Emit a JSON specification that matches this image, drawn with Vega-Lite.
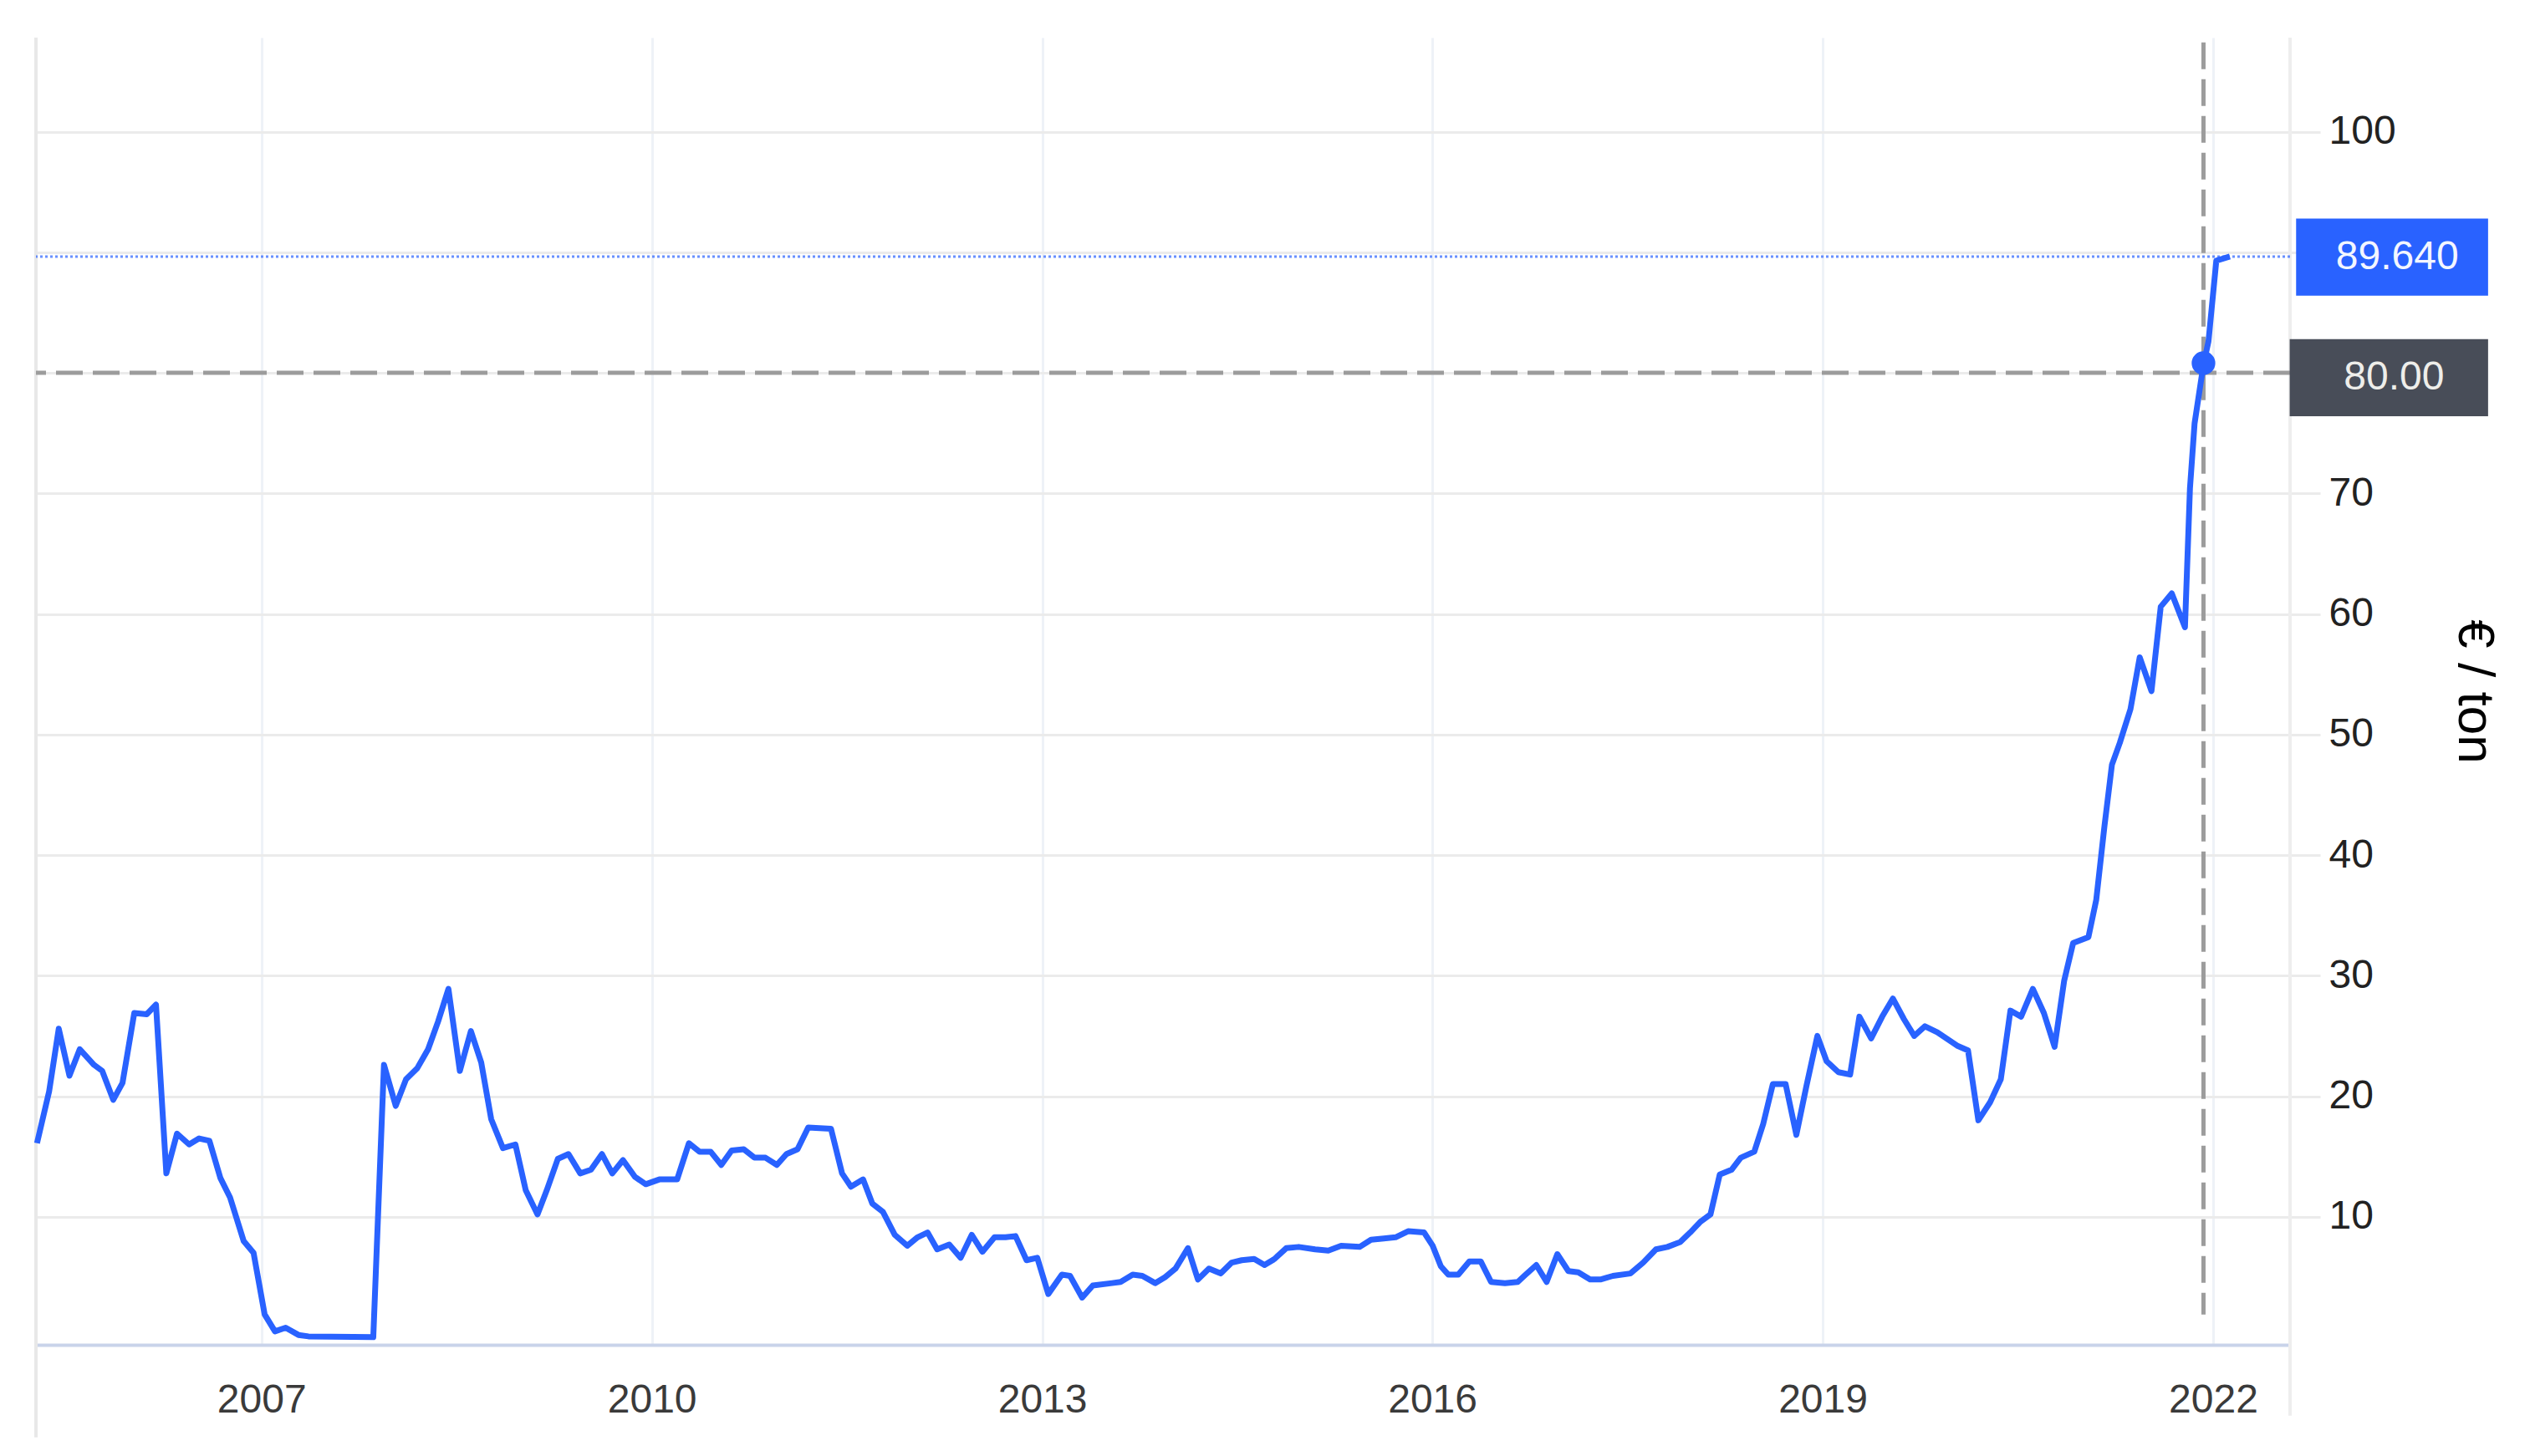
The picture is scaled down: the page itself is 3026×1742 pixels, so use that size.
{
  "$schema": "https://vega.github.io/schema/vega-lite/v6.json",
  "width": 2696,
  "height": 1564,
  "autosize": {"type": "none"},
  "padding": {"left": 43, "top": 45, "right": 287, "bottom": 133},
  "background": "#ffffff",
  "config": {"view": {"stroke": null}, "font": "Liberation Sans"},
  "datasets": {
    "prices": [
      {"date": "2005-04-11", "price": 16.1},
      {"date": "2005-05-15", "price": 20.4},
      {"date": "2005-06-11", "price": 25.6},
      {"date": "2005-07-11", "price": 21.7},
      {"date": "2005-08-09", "price": 23.9},
      {"date": "2005-09-18", "price": 22.6},
      {"date": "2005-10-11", "price": 22.1},
      {"date": "2005-11-11", "price": 19.7},
      {"date": "2005-12-07", "price": 21.1},
      {"date": "2006-01-09", "price": 26.9},
      {"date": "2006-02-13", "price": 26.8},
      {"date": "2006-03-11", "price": 27.6},
      {"date": "2006-04-09", "price": 13.6},
      {"date": "2006-05-09", "price": 16.9},
      {"date": "2006-06-12", "price": 16.0},
      {"date": "2006-07-10", "price": 16.5},
      {"date": "2006-08-08", "price": 16.3},
      {"date": "2006-09-08", "price": 13.2},
      {"date": "2006-10-05", "price": 11.6},
      {"date": "2006-11-12", "price": 8.0},
      {"date": "2006-12-10", "price": 7.0},
      {"date": "2007-01-10", "price": 1.9},
      {"date": "2007-02-08", "price": 0.5},
      {"date": "2007-03-10", "price": 0.8},
      {"date": "2007-04-15", "price": 0.2},
      {"date": "2007-05-13", "price": 0.08},
      {"date": "2007-07-15", "price": 0.05},
      {"date": "2007-09-15", "price": 0.03},
      {"date": "2007-11-11", "price": 0.02},
      {"date": "2007-12-11", "price": 22.6},
      {"date": "2008-01-13", "price": 19.2},
      {"date": "2008-02-11", "price": 21.4},
      {"date": "2008-03-13", "price": 22.3},
      {"date": "2008-04-13", "price": 23.9},
      {"date": "2008-05-11", "price": 26.2},
      {"date": "2008-06-09", "price": 28.9},
      {"date": "2008-07-11", "price": 22.1},
      {"date": "2008-08-11", "price": 25.4},
      {"date": "2008-09-09", "price": 22.8},
      {"date": "2008-10-07", "price": 18.1},
      {"date": "2008-11-09", "price": 15.7},
      {"date": "2008-12-14", "price": 16.0},
      {"date": "2009-01-12", "price": 12.2},
      {"date": "2009-02-14", "price": 10.2},
      {"date": "2009-03-12", "price": 12.2},
      {"date": "2009-04-12", "price": 14.8},
      {"date": "2009-05-12", "price": 15.2},
      {"date": "2009-06-14", "price": 13.6},
      {"date": "2009-07-14", "price": 13.9},
      {"date": "2009-08-14", "price": 15.2},
      {"date": "2009-09-12", "price": 13.6},
      {"date": "2009-10-12", "price": 14.7},
      {"date": "2009-11-15", "price": 13.3},
      {"date": "2009-12-15", "price": 12.7},
      {"date": "2010-01-22", "price": 13.1},
      {"date": "2010-03-13", "price": 13.1},
      {"date": "2010-04-15", "price": 16.1},
      {"date": "2010-05-15", "price": 15.4},
      {"date": "2010-06-15", "price": 15.4},
      {"date": "2010-07-15", "price": 14.3},
      {"date": "2010-08-13", "price": 15.5},
      {"date": "2010-09-16", "price": 15.6},
      {"date": "2010-10-16", "price": 14.9},
      {"date": "2010-11-16", "price": 14.9},
      {"date": "2010-12-18", "price": 14.3},
      {"date": "2011-01-14", "price": 15.2},
      {"date": "2011-02-14", "price": 15.6},
      {"date": "2011-03-16", "price": 17.4},
      {"date": "2011-05-19", "price": 17.3},
      {"date": "2011-06-19", "price": 13.6},
      {"date": "2011-07-14", "price": 12.5},
      {"date": "2011-08-17", "price": 13.1},
      {"date": "2011-09-12", "price": 11.1},
      {"date": "2011-10-12", "price": 10.4},
      {"date": "2011-11-14", "price": 8.5},
      {"date": "2011-12-19", "price": 7.6},
      {"date": "2012-01-17", "price": 8.3},
      {"date": "2012-02-14", "price": 8.7},
      {"date": "2012-03-12", "price": 7.3},
      {"date": "2012-04-15", "price": 7.7},
      {"date": "2012-05-17", "price": 6.6},
      {"date": "2012-06-17", "price": 8.5},
      {"date": "2012-07-17", "price": 7.1},
      {"date": "2012-08-20", "price": 8.3},
      {"date": "2012-09-20", "price": 8.3},
      {"date": "2012-10-18", "price": 8.4},
      {"date": "2012-11-18", "price": 6.4},
      {"date": "2012-12-18", "price": 6.6},
      {"date": "2013-01-18", "price": 3.6},
      {"date": "2013-02-25", "price": 5.2},
      {"date": "2013-03-20", "price": 5.1},
      {"date": "2013-04-23", "price": 3.3},
      {"date": "2013-05-23", "price": 4.3},
      {"date": "2013-07-16", "price": 4.5},
      {"date": "2013-08-09", "price": 4.6},
      {"date": "2013-09-12", "price": 5.2},
      {"date": "2013-10-09", "price": 5.1},
      {"date": "2013-11-14", "price": 4.5},
      {"date": "2013-12-12", "price": 5.0},
      {"date": "2014-01-10", "price": 5.7},
      {"date": "2014-02-14", "price": 7.4},
      {"date": "2014-03-14", "price": 4.8},
      {"date": "2014-04-14", "price": 5.7},
      {"date": "2014-05-17", "price": 5.3},
      {"date": "2014-06-17", "price": 6.2},
      {"date": "2014-07-15", "price": 6.4},
      {"date": "2014-08-19", "price": 6.5},
      {"date": "2014-09-17", "price": 6.0},
      {"date": "2014-10-15", "price": 6.5},
      {"date": "2014-11-17", "price": 7.4},
      {"date": "2014-12-22", "price": 7.5},
      {"date": "2015-02-06", "price": 7.3},
      {"date": "2015-03-15", "price": 7.2},
      {"date": "2015-04-20", "price": 7.6},
      {"date": "2015-06-11", "price": 7.5},
      {"date": "2015-07-13", "price": 8.1},
      {"date": "2015-08-18", "price": 8.2},
      {"date": "2015-09-20", "price": 8.3},
      {"date": "2015-10-25", "price": 8.8},
      {"date": "2015-12-09", "price": 8.7},
      {"date": "2016-01-02", "price": 7.6},
      {"date": "2016-01-25", "price": 5.9},
      {"date": "2016-02-15", "price": 5.2},
      {"date": "2016-03-14", "price": 5.2},
      {"date": "2016-04-14", "price": 6.3},
      {"date": "2016-05-16", "price": 6.3},
      {"date": "2016-06-14", "price": 4.6},
      {"date": "2016-07-23", "price": 4.5},
      {"date": "2016-08-28", "price": 4.6},
      {"date": "2016-09-19", "price": 5.2},
      {"date": "2016-10-19", "price": 6.0},
      {"date": "2016-11-17", "price": 4.6},
      {"date": "2016-12-17", "price": 6.9},
      {"date": "2017-01-17", "price": 5.5},
      {"date": "2017-02-14", "price": 5.4},
      {"date": "2017-03-19", "price": 4.8},
      {"date": "2017-04-17", "price": 4.8},
      {"date": "2017-05-22", "price": 5.1},
      {"date": "2017-07-10", "price": 5.3},
      {"date": "2017-08-15", "price": 6.2},
      {"date": "2017-09-20", "price": 7.3},
      {"date": "2017-10-22", "price": 7.5},
      {"date": "2017-11-27", "price": 7.9},
      {"date": "2017-12-25", "price": 8.7},
      {"date": "2018-01-23", "price": 9.6},
      {"date": "2018-02-20", "price": 10.2},
      {"date": "2018-03-18", "price": 13.5},
      {"date": "2018-04-20", "price": 13.9},
      {"date": "2018-05-16", "price": 14.9},
      {"date": "2018-06-23", "price": 15.4},
      {"date": "2018-07-18", "price": 17.7},
      {"date": "2018-08-14", "price": 21.0},
      {"date": "2018-09-19", "price": 21.0},
      {"date": "2018-10-19", "price": 16.8},
      {"date": "2018-11-16", "price": 20.8},
      {"date": "2018-12-17", "price": 25.0},
      {"date": "2019-01-12", "price": 22.9},
      {"date": "2019-02-14", "price": 22.0},
      {"date": "2019-03-19", "price": 21.8},
      {"date": "2019-04-14", "price": 26.6},
      {"date": "2019-05-17", "price": 24.8},
      {"date": "2019-06-17", "price": 26.6},
      {"date": "2019-07-17", "price": 28.1},
      {"date": "2019-08-17", "price": 26.4},
      {"date": "2019-09-15", "price": 25.0},
      {"date": "2019-10-15", "price": 25.8},
      {"date": "2019-11-19", "price": 25.3},
      {"date": "2020-01-13", "price": 24.2},
      {"date": "2020-02-13", "price": 23.8},
      {"date": "2020-03-13", "price": 18.0},
      {"date": "2020-04-15", "price": 19.5},
      {"date": "2020-05-15", "price": 21.4},
      {"date": "2020-06-11", "price": 27.1},
      {"date": "2020-07-11", "price": 26.6},
      {"date": "2020-08-13", "price": 28.9},
      {"date": "2020-09-13", "price": 26.9},
      {"date": "2020-10-13", "price": 24.1},
      {"date": "2020-11-09", "price": 29.6},
      {"date": "2020-12-04", "price": 32.7},
      {"date": "2021-01-16", "price": 33.2},
      {"date": "2021-02-07", "price": 36.3},
      {"date": "2021-03-02", "price": 42.4},
      {"date": "2021-03-23", "price": 47.5},
      {"date": "2021-04-14", "price": 49.3},
      {"date": "2021-05-14", "price": 52.1},
      {"date": "2021-06-09", "price": 56.4},
      {"date": "2021-07-12", "price": 53.6},
      {"date": "2021-08-07", "price": 60.6},
      {"date": "2021-09-07", "price": 61.7},
      {"date": "2021-10-14", "price": 58.9},
      {"date": "2021-10-28", "price": 70.4},
      {"date": "2021-11-10", "price": 75.8},
      {"date": "2021-12-05", "price": 80.7},
      {"date": "2021-12-19", "price": 82.6},
      {"date": "2022-01-10", "price": 89.3},
      {"date": "2022-02-17", "price": 89.64}
    ]
  },
  "layer": [
    {
      "data": {"values": [{}]},
      "mark": {"type": "rule", "color": "#e8e8e8", "strokeWidth": 4},
      "encoding": {
        "x": {"datum": {"year": 2005, "month": 4, "date": 8}, "type": "temporal"},
        "y": {"datum": 107.8, "type": "quantitative"},
        "y2": {"datum": -8.3}
      }
    },
    {
      "data": {"values": [{}]},
      "mark": {"type": "rule", "color": "#eeeeee", "strokeWidth": 4},
      "encoding": {
        "x": {"datum": {"year": 2022, "month": 8, "date": 5}, "type": "temporal"},
        "y": {"datum": 107.8, "type": "quantitative"},
        "y2": {"datum": -6.5}
      }
    },
    {
      "data": {"values": [{}]},
      "mark": {"type": "rule", "color": "#2962ff", "opacity": 0.7, "strokeWidth": 3, "strokeDash": [3, 3]},
      "encoding": {
        "y": {"datum": 89.64, "type": "quantitative"}
      }
    },
    {
      "data": {"values": [{}]},
      "mark": {"type": "rule", "color": "#9c9c9c", "strokeWidth": 5, "strokeDash": [32, 12]},
      "encoding": {
        "y": {"datum": 80, "type": "quantitative"}
      }
    },
    {
      "data": {"values": [{}]},
      "mark": {"type": "rule", "color": "#9c9c9c", "strokeWidth": 5, "strokeDash": [32, 12]},
      "encoding": {
        "x": {"datum": {"year": 2021, "month": 12, "date": 5}, "type": "temporal"},
        "y": {"datum": 107.4, "type": "quantitative"},
        "y2": {"datum": 1.9}
      }
    },
    {
      "data": {"name": "prices"},
      "mark": {"type": "line", "color": "#2962ff", "strokeWidth": 7, "strokeJoin": "round"},
      "encoding": {
        "x": {
          "field": "date", "type": "temporal", "title": null,
          "scale": {"domain": [{"year": 2005, "month": 4, "date": 8}, {"year": 2022, "month": 8, "date": 5}]},
          "axis": {
            "orient": "bottom",
            "values": [{"year": 2007}, {"year": 2010}, {"year": 2013}, {"year": 2016}, {"year": 2019}, {"year": 2022}],
            "format": "%Y",
            "title": null,
            "grid": true, "gridColor": "#eef2f7", "gridWidth": 3,
            "ticks": false,
            "domain": true, "domainColor": "#c9d3ea", "domainWidth": 4,
            "labelFont": "Liberation Sans", "labelFontSize": 48, "labelColor": "#3a3a3a",
            "labelPadding": 42, "labelFlush": false, "labelOverlap": false
          }
        },
        "y": {
          "field": "price", "type": "quantitative", "title": "€ / ton",
          "scale": {"domain": [-0.62, 107.8], "nice": false, "zero": false},
          "axis": {
            "orient": "right",
            "values": [10, 20, 30, 40, 50, 60, 70, 80, 90, 100],
            "labelExpr": "datum.value == 80 || datum.value == 90 ? '' : datum.label",
            "grid": true, "gridColor": "#ebebeb", "gridWidth": 3,
            "ticks": true, "tickColor": "#ebebeb", "tickWidth": 3, "tickSize": 36,
            "domain": false,
            "labelFont": "Liberation Sans", "labelFontSize": 48, "labelColor": "#222222", "labelPadding": 10,
            "title": "€ / ton", "titleFont": "Liberation Sans", "titleFontSize": 62, "titleFontWeight": "normal",
            "titleColor": "#000000", "titlePadding": 62
          }
        }
      }
    },
    {
      "data": {"values": [{}]},
      "mark": {"type": "circle", "color": "#2962ff", "opacity": 1, "size": 800},
      "encoding": {
        "x": {"datum": {"year": 2021, "month": 12, "date": 5}, "type": "temporal"},
        "y": {"datum": 80.8, "type": "quantitative"}
      }
    },
    {
      "data": {"values": [{}]},
      "mark": {"type": "rect", "color": "#2962ff"},
      "encoding": {
        "x": {"datum": {"year": 2022, "month": 8, "date": 22}, "type": "temporal"},
        "x2": {"datum": {"year": 2024, "month": 2, "date": 12}},
        "y": {"datum": 92.8, "type": "quantitative"},
        "y2": {"datum": 86.4}
      }
    },
    {
      "data": {"values": [{}]},
      "mark": {"type": "rect", "color": "#484d58"},
      "encoding": {
        "x": {"datum": {"year": 2022, "month": 8, "date": 4}, "type": "temporal"},
        "x2": {"datum": {"year": 2024, "month": 2, "date": 12}},
        "y": {"datum": 82.8, "type": "quantitative"},
        "y2": {"datum": 76.4}
      }
    },
    {
      "data": {"values": [{}]},
      "mark": {"type": "text", "color": "#f3f6ff", "font": "Liberation Sans", "fontSize": 48, "align": "center", "baseline": "middle"},
      "encoding": {
        "x": {"datum": {"year": 2023, "month": 6, "date": 2}, "type": "temporal"},
        "y": {"datum": 89.6, "type": "quantitative"},
        "text": {"value": "89.640"}
      }
    },
    {
      "data": {"values": [{}]},
      "mark": {"type": "text", "color": "#eeeeea", "font": "Liberation Sans", "fontSize": 48, "align": "center", "baseline": "middle"},
      "encoding": {
        "x": {"datum": {"year": 2023, "month": 5, "date": 24}, "type": "temporal"},
        "y": {"datum": 79.6, "type": "quantitative"},
        "text": {"value": "80.00"}
      }
    }
  ]
}
